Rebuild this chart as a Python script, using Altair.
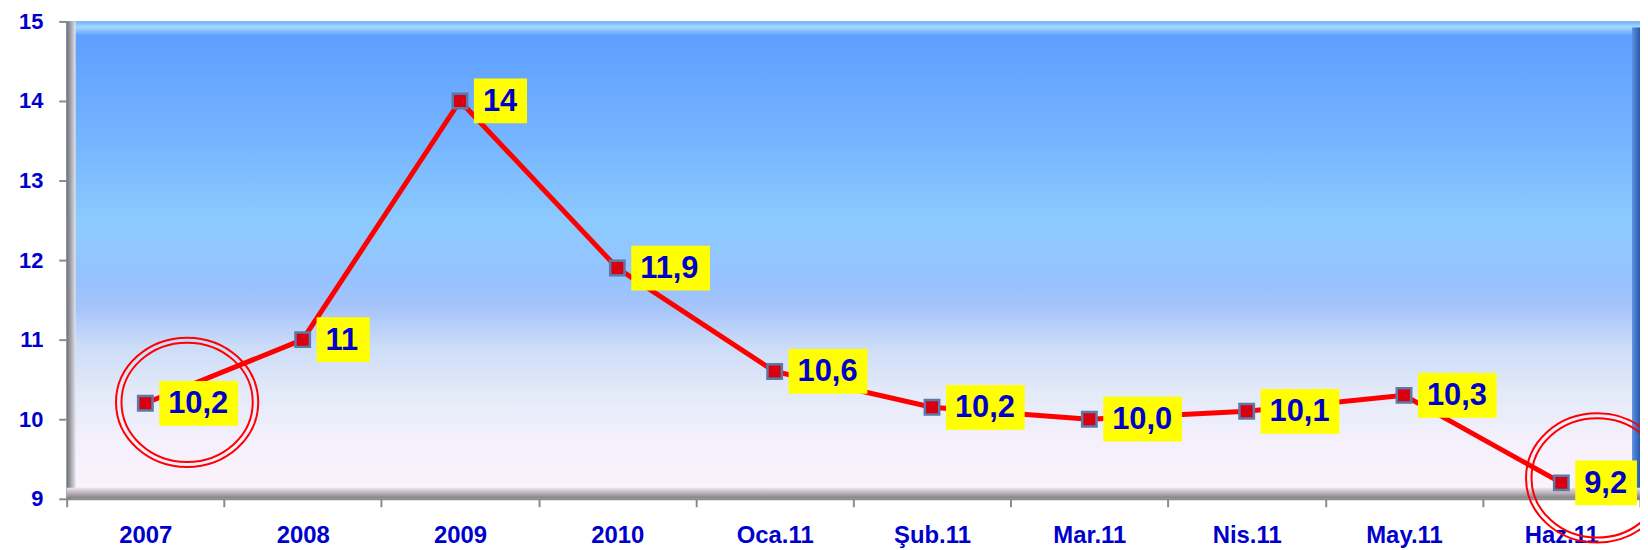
import altair as alt
import pandas as pd

categories = ["2007", "2008", "2009", "2010", "Oca.11", "Şub.11", "Mar.11", "Nis.11", "May.11", "Haz.11"]
values = [10.2, 11.0, 14.0, 11.9, 10.6, 10.15, 10.0, 10.1, 10.3, 9.2]
labels = ["10,2", "11", "14", "11,9", "10,6", "10,2", "10,0", "10,1", "10,3", "9,2"]

W, H = 1582, 480
FONT = "Liberation Sans"
BLUE = "#0000CC"

df = pd.DataFrame({"cat": categories, "val": values, "label": labels})
one = pd.DataFrame({"a": [0]})

x_enc = alt.X("cat:N", sort=categories,
              scale=alt.Scale(type="band", paddingInner=0, paddingOuter=0),
              axis=alt.Axis(title=None, labelAngle=0, labelFont=FONT, labelFontSize=24,
                            labelFontWeight="bold", labelColor=BLUE, labelPadding=17,
                            tickBand="extent", tickSize=8, tickColor="#8a8a8a", tickWidth=2,
                            domainColor="#8a8a8a", domainWidth=2))
y_enc = alt.Y("val:Q", scale=alt.Scale(domain=[9, 15], nice=False, zero=False),
              axis=alt.Axis(title=None, values=[9, 10, 11, 12, 13, 14, 15], labelFont=FONT,
                            labelFontSize=22, labelFontWeight="bold", labelColor=BLUE,
                            labelPadding=16, tickSize=8, tickColor="#8a8a8a", tickWidth=2,
                            domainColor="#8a8a8a", domainWidth=2, grid=False))

def lg(stops, x1=0, y1=0, x2=0, y2=1):
    return {"gradient": "linear", "x1": x1, "y1": y1, "x2": x2, "y2": y2,
            "stops": [{"offset": o, "color": c} for o, c in stops]}

bg = alt.Chart(one).mark_rect(fill=lg([
    (0.0, "#5E9BFF"), (0.06, "#62A1FF"), (0.25, "#76B5FF"), (0.42, "#8CCAFF"),
    (0.55, "#98C2FF"), (0.60, "#A6C4FA"), (0.68, "#CCDCF8"), (0.78, "#E4EAF8"),
    (0.88, "#F4F0FC"), (1.0, "#FDF3FB")])).encode(
    x=alt.value(0), x2=alt.value(W), y=alt.value(0), y2=alt.value(H))

top_bevel = alt.Chart(one).mark_rect(fill=lg([
    (0.0, "#70AEFF"), (0.4, "#A6DCFF"), (1.0, "#62A1FF")])).encode(
    x=alt.value(0), x2=alt.value(W), y=alt.value(0), y2=alt.value(14))
right_bevel = alt.Chart(one).mark_rect(fill=lg([
    (0.0, "#5C92E8"), (1.0, "#2A58A8")], x1=0, y1=0, x2=1, y2=0)).encode(
    x=alt.value(W - 8), x2=alt.value(W), y=alt.value(6), y2=alt.value(H))
left_bevel = alt.Chart(one).mark_rect(fill=lg([
    (0.0, "#6E6E74"), (0.5, "#A8A8B0"), (1.0, "#E4E4EC")], x1=0, y1=0, x2=1, y2=0)).encode(
    x=alt.value(0), x2=alt.value(9), y=alt.value(0), y2=alt.value(H))
bottom_bevel = alt.Chart(one).mark_rect(fill=lg([
    (0.0, "#ECE4EC"), (0.5, "#B8B0B8"), (1.0, "#7A7A80")])).encode(
    x=alt.value(0), x2=alt.value(W), y=alt.value(H - 11), y2=alt.value(H))

base = alt.Chart(df).encode(x=x_enc, y=y_enc)

line = base.mark_line(color="#FF0000", strokeWidth=5)
markers = base.mark_point(shape="square", size=210, filled=True, fill="#D80010",
                          stroke="#5A7AAA", strokeWidth=2.5, opacity=1)

ellipse = "M-1.1,0A1.1,1 0 1,0 1.1,0A1.1,1 0 1,0 -1.1,0Z"
rings = []
for cat, dx, dy in [("2007", 42, -1), ("Haz.11", 36, -5)]:
    for s in (65, 60):
        rings.append(base.transform_filter(alt.datum.cat == cat).mark_point(
            shape=ellipse, size=(2 * s) ** 2, filled=False, stroke="#FF0000",
            strokeWidth=2, opacity=1, xOffset=dx, yOffset=dy))

boxes = base.transform_calculate(
    w="length(replace(datum.label, ',', '')) * 17.2 + (indexof(datum.label, ',') >= 0 ? 8.6 : 0) + 19"
).transform_calculate(
    path="'M14,-22.5H' + (14 + datum.w) + 'V22.5H14Z'"
).mark_point(size=4, filled=True, fill="#FFFF00", strokeWidth=0, opacity=1).encode(
    shape=alt.Shape("path:N", scale=None, legend=None))

texts = base.mark_text(align="left", baseline="middle", dx=23, dy=1, font=FONT,
                       fontSize=31, fontWeight="bold", color=BLUE).encode(text="label:N")

chart = alt.layer(bg, top_bevel, right_bevel, left_bevel, bottom_bevel, line, markers,
                  *rings, boxes, texts).properties(
    width=W, height=H, autosize=alt.AutoSizeParams(type="none"),
    padding={"left": 59, "top": 12, "right": 0, "bottom": 50}
).configure_view(stroke=None).configure(background="white")

chart.save("out.html", embed_options={"renderer": "svg", "actions": False})
